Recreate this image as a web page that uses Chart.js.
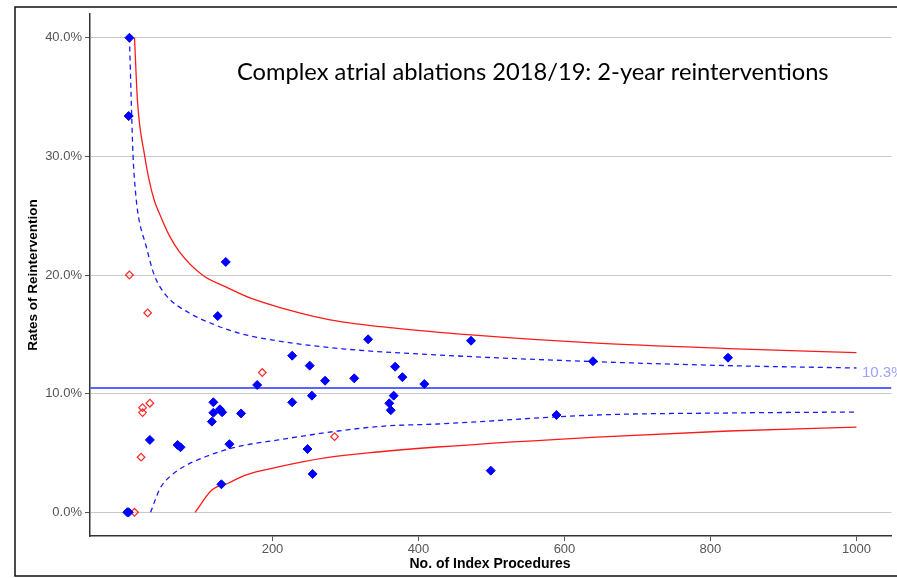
<!DOCTYPE html>
<html>
<head>
<meta charset="utf-8">
<script src="https://cdn.jsdelivr.net/npm/chart.js@4.4.1/dist/chart.umd.min.js"></script>
<style>
  html, body { margin: 0; padding: 0; background: #fff; }
  canvas { display: block; }
</style>
</head>
<body>
<canvas id="funnel" width="897" height="578"></canvas>
<script>
// units: procedures on x, percent on y
const blueN = [4, 3, 1, 3, 32, 70, 74, 117, 119, 119, 128, 131, 125, 136, 130, 141, 157, 179, 227, 227,
  248, 251, 254, 255, 272, 312, 331, 360, 362, 366, 368, 378, 408, 472, 499, 589, 639, 824];
const blueRate = [40.0, 33.4, 0, 0, 6.1, 5.67, 5.48, 7.64, 9.27, 8.39, 8.68, 8.43, 16.54, 21.1, 2.36, 5.74, 8.33, 10.73, 13.2, 9.27,
  5.33, 12.36, 9.83, 3.23, 11.09, 11.29, 14.58, 9.19, 8.6, 9.83, 12.27, 11.39, 10.81, 14.46, 3.51, 8.2, 12.73, 13.03];

const redN = [3, 4, 11, 20, 22, 22, 32, 29, 186, 285];
const redRate = [33.4, 20.0, 0, 4.64, 8.82, 8.4, 9.19, 16.8, 11.78, 6.37];

const meanRate = 10.48;
const meanLabel = '10.3%';

const upper998N = [11, 15, 25, 31, 38, 45, 58, 72, 104, 136, 172, 208, 281, 371, 472, 644, 825, 1000];
const upper998 = [40.0, 34.7, 30.0, 28.0, 26.3, 25.2, 23.4, 22.0, 20.0, 19.0, 18.0, 17.3, 16.2, 15.5, 14.95, 14.25, 13.8, 13.45];

const upper95N = [4, 9, 11, 15, 27, 38, 54, 86, 117, 154, 208, 299, 426, 644, 825, 1000];
const upper95 = [40.0, 30.0, 28.0, 25.5, 22.4, 20.0, 18.3, 16.8, 15.9, 15.1, 14.44, 13.76, 13.26, 12.69, 12.36, 12.16];

const lower95N = [33, 45, 50, 72, 109, 150, 208, 290, 354, 426, 644, 825, 1000];
const lower95 = [0, 1.9, 2.4, 3.6, 4.7, 5.5, 6.1, 6.85, 7.27, 7.44, 8.2, 8.37, 8.45];

const lower998N = [94, 117, 140, 163, 208, 272, 344, 426, 644, 825, 1000];
const lower998 = [0, 1.88, 2.47, 3.14, 3.82, 4.58, 5.08, 5.5, 6.34, 6.85, 7.18];

const xTicks = [200, 400, 600, 800, 1000];
const yTicks = [0, 10, 20, 30, 40];

const toPts = (xs, ys) => xs.map((x, i) => ({ x: x, y: ys[i] }));

function curve(xs, ys, color, dash) {
  return {
    type: 'line',
    data: toPts(xs, ys),
    borderColor: color,
    borderWidth: 1.3,
    borderDash: dash,
    pointRadius: 0,
    fill: false,
    cubicInterpolationMode: 'monotone',
  };
}

const decor = {
  id: 'decor',
  afterDraw(chart) {
    const ctx = chart.ctx;
    const yS = chart.scales.y;
    ctx.save();
    // outer frame
    ctx.strokeStyle = '#111';
    ctx.lineWidth = 1.5;
    ctx.beginPath();
    ctx.moveTo(897, 7); ctx.lineTo(15, 7); ctx.lineTo(15, 576); ctx.lineTo(897, 576);
    ctx.stroke();

    // title
    ctx.fillStyle = '#000';
    ctx.textBaseline = 'alphabetic';
    ctx.textAlign = 'left';
    ctx.font = '22px Lato';
    const title = 'Complex atrial ablations 2018/19: 2-year reinterventions';
    const w = ctx.measureText(title).width;
    ctx.font = (22 * 592 / w).toFixed(2) + 'px Lato';
    ctx.fillText(title, 237, 80);

    // mean label
    ctx.fillStyle = '#9f9fff';
    ctx.font = '15px "Liberation Sans"';
    ctx.textBaseline = 'middle';
    ctx.fillText(meanLabel, 862, yS.getPixelForValue(meanRate) - 15);

    // axis titles
    ctx.fillStyle = '#000';
    ctx.font = 'bold 14px "Liberation Sans"';
    ctx.textAlign = 'center';
    ctx.fillText('No. of Index Procedures', 490, 564);
    ctx.font = 'bold 13.5px "Liberation Sans"';
    ctx.translate(33, 275);
    ctx.rotate(-Math.PI / 2);
    ctx.fillText('Rates of Reintervention', 0, 0);
    ctx.restore();
  }
};

new Chart(document.getElementById('funnel'), {
  type: 'scatter',
  data: {
    datasets: [
      {
        data: toPts(blueN, blueRate),
        pointStyle: 'rectRot',
        pointRadius: 4.5,
        backgroundColor: '#0000ff',
        borderColor: '#0000ff',
        borderWidth: 1,
      },
      {
        data: toPts(redN, redRate),
        pointStyle: 'rectRot',
        pointRadius: 3.8,
        backgroundColor: 'rgba(255,255,255,0)',
        borderColor: '#ff2a2a',
        borderWidth: 1.2,
      },
      {
        type: 'line',
        data: toPts([-50, 1048], [meanRate, meanRate]),
        borderColor: '#5c66ff',
        borderWidth: 2,
        pointRadius: 0,
      },
      curve(upper998N, upper998, '#ff1a1a', []),
      curve(lower998N, lower998, '#ff1a1a', []),
      curve(upper95N, upper95, '#1a1aff', [5, 4]),
      curve(lower95N, lower95, '#1a1aff', [5, 4]),
    ]
  },
  options: {
    responsive: false,
    animation: false,
    devicePixelRatio: 1,
    layout: { padding: { top: 14, left: 0, right: 0, bottom: 0 } },
    plugins: { legend: { display: false }, tooltip: { enabled: false }, title: { display: false } },
    scales: {
      x: {
        type: 'linear',
        min: -50,
        max: 1048,
        afterBuildTicks: s => { s.ticks = xTicks.map(v => ({ value: v })); },
        afterFit: s => { s.height = 42; },
        grid: { drawOnChartArea: false, drawTicks: true, tickLength: 5, tickColor: '#555' },
        border: { display: true, color: '#333', width: 1.5 },
        ticks: { color: '#555', font: { family: 'Liberation Sans', size: 13 }, padding: 1, maxRotation: 0,
          callback: v => String(v) },
      },
      y: {
        type: 'linear',
        min: -2,
        max: 42,
        afterBuildTicks: s => { s.ticks = yTicks.map(v => ({ value: v })); },
        afterFit: s => { s.width = 90; },
        grid: { color: '#c8c8c8', lineWidth: 1, drawTicks: true, tickLength: 5, tickColor: '#555' },
        border: { display: true, color: '#333', width: 1.5 },
        ticks: { color: '#555', font: { family: 'Liberation Sans', size: 13 }, padding: 3,
          callback: v => v.toFixed(1) + '%' },
      }
    }
  },
  plugins: [decor]
});
</script>
</body>
</html>
